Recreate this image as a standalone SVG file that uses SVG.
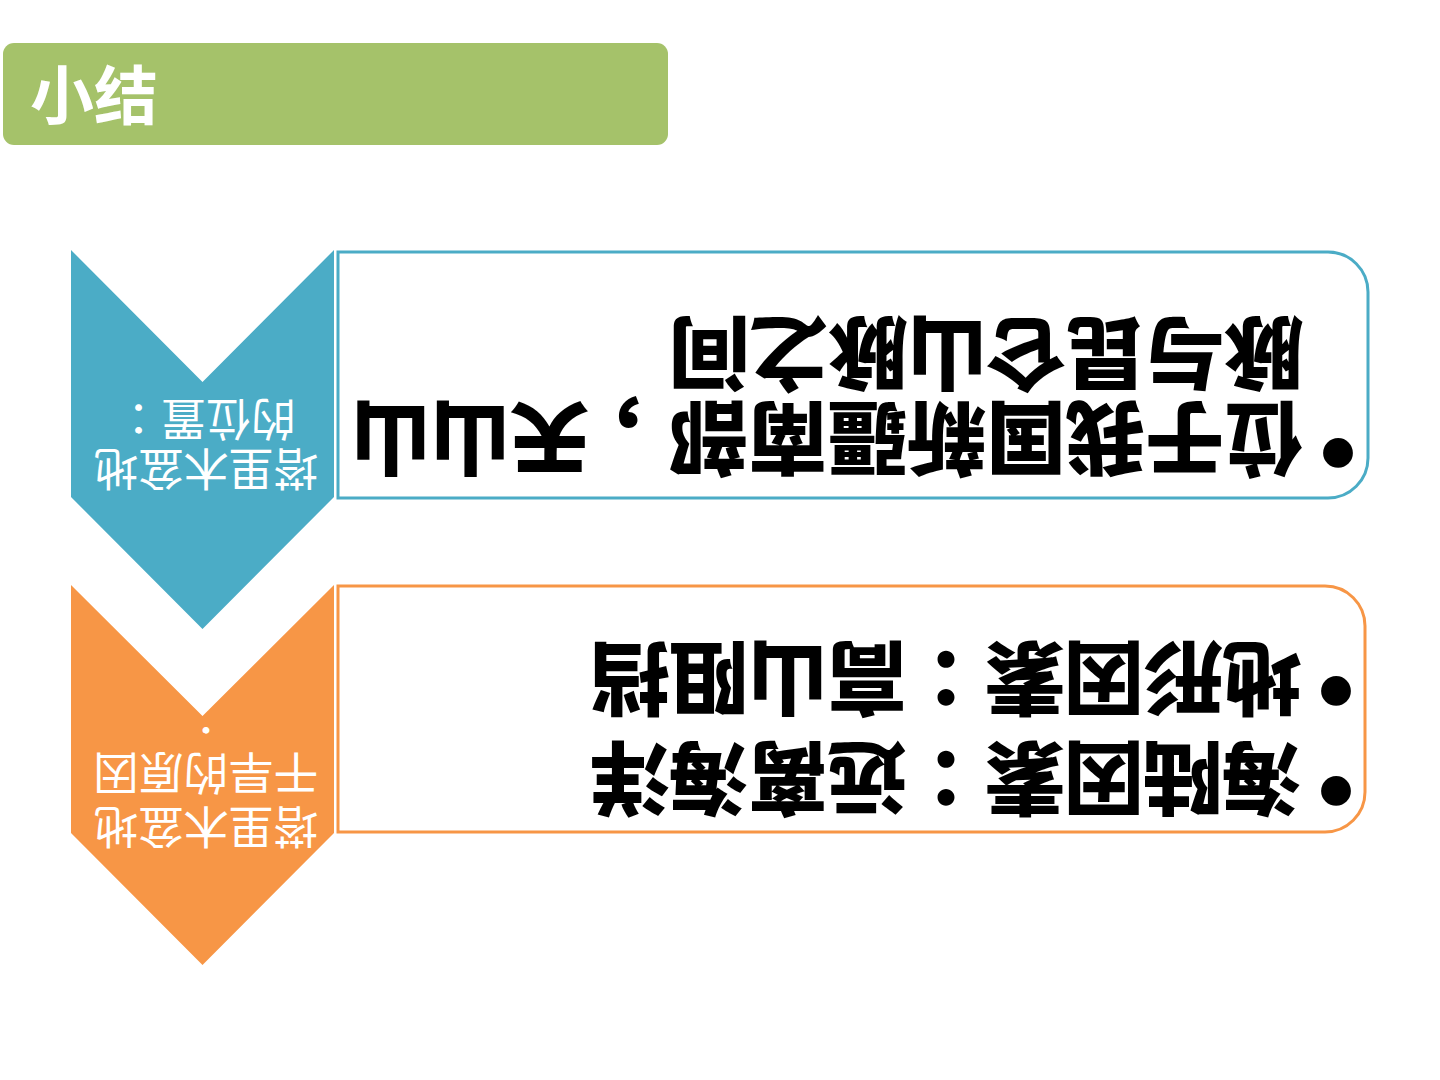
<svg xmlns="http://www.w3.org/2000/svg" width="1440" height="1080" viewBox="0 0 1440 1080">
<style>
.sc{font-family:"Noto Sans CJK SC","Noto Sans",sans-serif}
.tc{font-family:"Noto Sans CJK TC","Noto Sans CJK SC",sans-serif}
.title{font-size:64px;font-weight:700;fill:#ffffff}
.chev{font-size:45px;font-weight:400;fill:#ffffff;text-anchor:middle}
.big{font-size:80px;font-weight:900;fill:#000000}
.bul{font-family:"Liberation Sans",sans-serif;font-size:110px;fill:#000000;text-anchor:middle}
.box{fill:#ffffff;stroke-width:3}
</style>
<defs>
<clipPath id="clipBlue"><path d="M71,250 L202.5,382 L334,250 V497 L202.5,629 L71,497 Z"/></clipPath>
<clipPath id="clipOrange"><path d="M71,585 L202.5,716 L334,585 V833 L202.5,965 L71,833 Z"/></clipPath>
</defs>
<rect width="1440" height="1080" fill="#ffffff"/>

<g id="title">
<rect x="3" y="43" width="665" height="102" rx="11" fill="#A5C26A"/>
<text class="sc title" x="30" y="119">小结</text>
</g>

<g id="box1">
<path class="box" stroke="#4BACC6" d="M338,252 H1328 A40,40 0 0 1 1368,292 V458 A40,40 0 0 1 1328,498 H338 Z"/>
<g transform="rotate(180 853 375)">
<text class="bul" x="368" y="333">•</text>
<text class="tc big" x="402" y="341" textLength="953" lengthAdjust="spacing">位于我国新疆南部<tspan dy="24">，</tspan><tspan dy="-24">天山山</tspan></text>
<text class="tc big" x="402" y="426" textLength="634" lengthAdjust="spacing">脉与昆仑山脉之间</text>
</g>
</g>

<g id="chevron1">
<path d="M71,250 L202.5,382 L334,250 V497 L202.5,629 L71,497 Z" fill="#4BACC6"/>
<g clip-path="url(#clipBlue)">
<g transform="rotate(180 206 440)">
<text class="tc chev" x="206" y="428">塔里木盆地</text>
<text class="tc chev" x="206" y="478">的位置：</text>
</g>
</g>
</g>

<g id="box2">
<path class="box" stroke="#F79646" d="M338,586 H1325 A40,40 0 0 1 1365,626 V792 A40,40 0 0 1 1325,832 H338 Z"/>
<g transform="rotate(180 852 709)">
<text class="bul" x="368" y="663">•</text>
<text class="tc big" x="402" y="669" textLength="712" lengthAdjust="spacing">海陆因素：远离海洋</text>
<text class="bul" x="368" y="763">•</text>
<text class="tc big" x="402" y="769" textLength="712" lengthAdjust="spacing">地形因素：高山阻挡</text>
</g>
</g>

<g id="chevron2">
<path d="M71,585 L202.5,716 L334,585 V833 L202.5,965 L71,833 Z" fill="#F79646"/>
<g clip-path="url(#clipOrange)">
<g transform="rotate(180 206 780)">
<text class="tc chev" x="206" y="750">塔里木盆地</text>
<text class="tc chev" x="206" y="804">干旱的原因</text>
<text class="tc chev" x="206" y="858">：</text>
</g>
</g>
</g>
</svg>
